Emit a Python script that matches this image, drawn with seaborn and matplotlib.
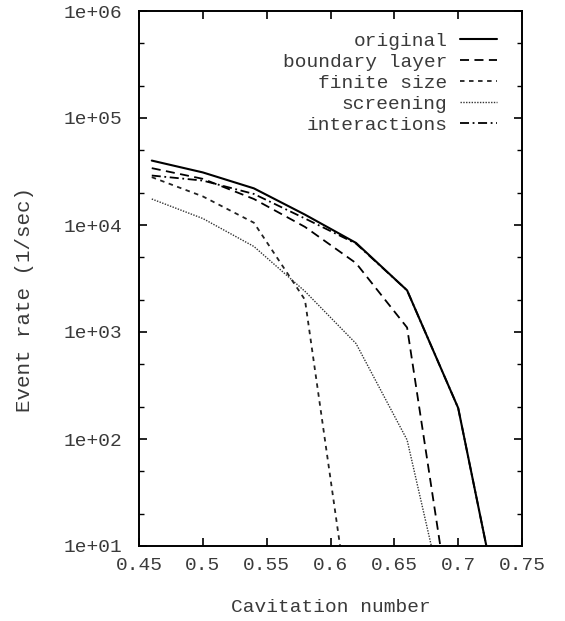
import numpy as np
import pandas as pd
import matplotlib
matplotlib.use("Agg")
import matplotlib.pyplot as plt
import seaborn as sns
from matplotlib.ticker import FixedLocator, LogLocator, NullFormatter

# ---- data ----
x_orig = [0.46, 0.50, 0.54, 0.58, 0.62, 0.66, 0.70, 0.74]
original = [4.0e4, 3.1e4, 2.2e4, 1.25e4, 6.8e3, 2.45e3, 195, 0.9]

x_bl = [0.46, 0.50, 0.54, 0.58, 0.62, 0.66, 0.70]
boundary_layer = [3.4e4, 2.7e4, 1.75e4, 9.6e3, 4.4e3, 1.1e3, 0.8]

x_fs = [0.46, 0.50, 0.54, 0.58, 0.62]
finite_size = [2.8e4, 1.85e4, 1.05e4, 2.0e3, 0.9]

x_sc = [0.46, 0.50, 0.54, 0.58, 0.62, 0.66, 0.70]
screening = [1.75e4, 1.15e4, 6.3e3, 2.4e3, 780, 98, 0.8]

x_int = [0.46, 0.50, 0.54, 0.58, 0.62, 0.66, 0.70, 0.74]
interactions = [2.9e4, 2.6e4, 1.95e4, 1.15e4, 6.7e3, 2.45e3, 195, 0.9]

series_names = ["original", "boundary layer", "finite size", "screening", "interactions"]

x_ticks = [0.45, 0.5, 0.55, 0.6, 0.65, 0.7, 0.75]
x_ticklabels = ["0.45", "0.5", "0.55", "0.6", "0.65", "0.7", "0.75"]
y_ticks = [1e1, 1e2, 1e3, 1e4, 1e5, 1e6]
y_ticklabels = ["1e+01", "1e+02", "1e+03", "1e+04", "1e+05", "1e+06"]

# ---- styling ----
sns.set_style("ticks")
plt.rcParams["font.family"] = ["Liberation Mono", "DejaVu Sans Mono"]
txt_color = "#3a3a3a"

fig = plt.figure(figsize=(5.65, 6.21), dpi=100)
ax = fig.add_axes([139 / 565, 1 - 546 / 621, (522 - 139) / 565, (546 - 11) / 621])

styles = {
    "original": dict(linestyle="-", lw=1.5, color="black"),
    "boundary layer": dict(linestyle=(0, (5, 3)), lw=1.3, color="black"),
    "finite size": dict(linestyle=(0, (2.5, 2.5)), lw=1.3, color="#222222"),
    "screening": dict(linestyle=(0, (1, 1)), lw=1.0, color="#333333"),
    "interactions": dict(linestyle=(0, (5, 2, 1, 2)), lw=1.3, color="black"),
}
data = {
    "original": (x_orig, original),
    "boundary layer": (x_bl, boundary_layer),
    "finite size": (x_fs, finite_size),
    "screening": (x_sc, screening),
    "interactions": (x_int, interactions),
}

for name in ["interactions", "screening", "finite size", "boundary layer", "original"]:
    xs, ys = data[name]
    df = pd.DataFrame({"x": xs, "y": ys})
    sns.lineplot(data=df, x="x", y="y", ax=ax, label=name, **styles[name])

ax.set_yscale("log")
ax.set_xlim(0.45, 0.75)
ax.set_ylim(1e1, 1e6)

ax.xaxis.set_major_locator(FixedLocator(x_ticks))
ax.set_xticklabels(x_ticklabels)
ax.yaxis.set_major_locator(FixedLocator(y_ticks))
ax.set_yticklabels(y_ticklabels)
ax.yaxis.set_minor_locator(LogLocator(base=10, subs=(2.0, 5.0)))
ax.yaxis.set_minor_formatter(NullFormatter())
ax.xaxis.set_minor_locator(FixedLocator([]))

ax.tick_params(which="both", direction="in", top=True, right=True, colors="black",
               labelcolor=txt_color, labelsize=14)
ax.tick_params(which="major", length=6, width=1.2)
ax.tick_params(which="minor", length=3.5, width=1.0)
ax.tick_params(axis="y", pad=12)
ax.tick_params(axis="x", pad=8)
for s in ax.spines.values():
    s.set_linewidth(1.4)
    s.set_color("black")

ax.set_xlabel("Cavitation number", fontsize=14, color=txt_color, labelpad=18)
ax.set_ylabel("Event rate (1/sec)", fontsize=15, color=txt_color)
ax.yaxis.set_label_coords(-0.275, 0.46)

h, l = ax.get_legend_handles_labels()
order = [l.index(n) for n in series_names]
leg = ax.legend([h[i] for i in order], [l[i] for i in order], loc="upper right",
                bbox_to_anchor=(0.97, 0.985), markerfirst=False, frameon=False,
                fontsize=14, handlelength=1.9, handletextpad=0.65, labelspacing=0.17,
                borderpad=0.2)
for t in leg.get_texts():
    t.set_color(txt_color)

fig.savefig("out.png", dpi=100)
